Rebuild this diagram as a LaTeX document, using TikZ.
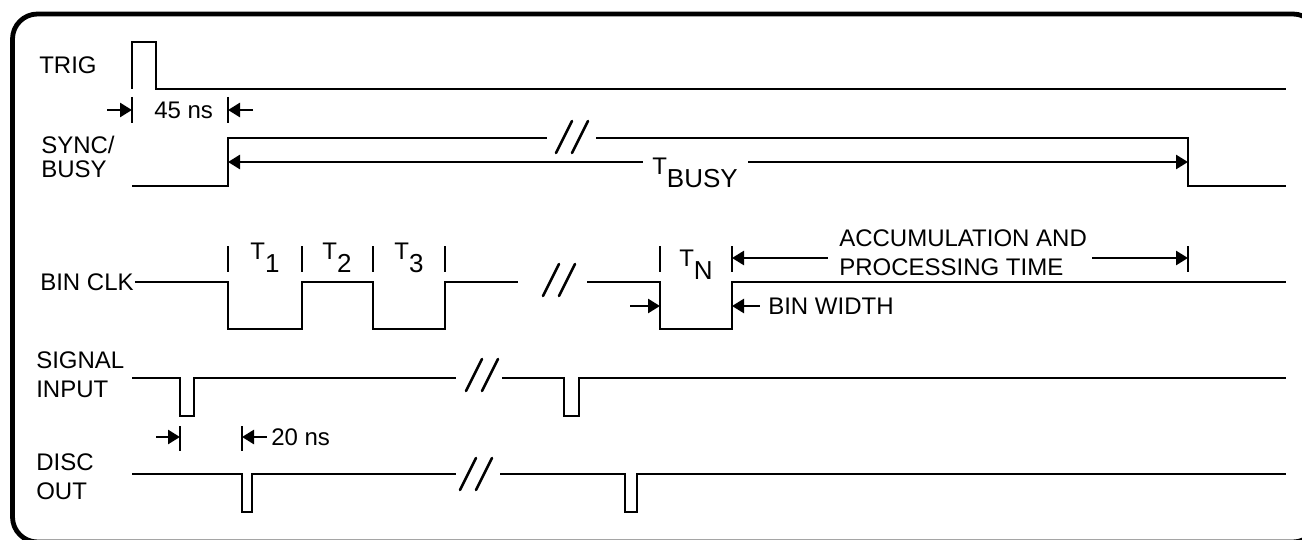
\documentclass[tikz,border=0pt]{standalone}
\usepackage{fontspec}
\setmainfont{Liberation Sans}
\usepackage{tikz}
\usetikzlibrary{arrows.meta}
\tikzset{>={Triangle[width=7pt,length=6pt]}}

\begin{document}
\begin{tikzpicture}[x=0.5pt,y=-0.5pt,line width=1.3pt]

  \fontsize{12}{14.5}\selectfont

  \newcommand\gapmark[2]{\draw[line cap=round] ({#1-16},{#2+16}) -- (#1,{#2-16}) (#1,{#2+16}) -- ({#1+16},{#2-16});}
  \newcommand\tsub[1]{{\fontsize{12}{12}\selectfont T}\raisebox{-6.5pt}{\fontsize{13}{13}\selectfont #1}}

  \useasboundingbox (0,0) rectangle (1302,540);
  \clip (0,0) rectangle (1302,540);
  \draw[line width=2.4pt, rounded corners=12.5pt] (12.5,14) rectangle (1318,542); % frame

  %% labels
  \node[anchor=west, inner sep=0] (trig) at (38,65) {TRIG};
  \node[anchor=west, inner sep=0, align=left] (sync) at (40,157) {SYNC/\\[-2.5pt]BUSY};
  \node[anchor=west, inner sep=0] (binclk) at (39,282) {BIN CLK};
  \node[anchor=west, inner sep=0, align=left] (sigin) at (35,375) {SIGNAL\\INPUT};
  \node[anchor=west, inner sep=0, align=left] (disc) at (35,477) {DISC\\OUT};

  %% TRIG
  \draw (132,89) -- (132,42) -- (156,42) -- (156,89) -- (1286,89);
  \draw (132,97) -- (132,123); % left tick
  \draw (228,97) -- (228,123); % right tick
  \draw[->] (107,110) -- (132,110);
  \draw[->] (253,110) -- (228,110);
  \node[anchor=west, inner sep=0] (t45) at (153,110) {45 ns};

  %% SYNC/BUSY
  \draw (132,186) -- (228,186) -- (228,138) -- (547,138);
  \draw (596,138) -- (1188,138) -- (1188,186) -- (1286,186);
  \gapmark{572}{137}
  \node (tbusy) at (695,173) {\tsub{BUSY}};
  \draw[<-] (228,162) -- (643,162);
  \draw[->] (748,162) -- (1188,162);

  %% BIN CLK
  \draw (binclk.east) -- (228,282) -- (228,329) -- (302,329) -- (302,282) -- (373,282)
    -- (373,329) -- (445,329) -- (445,282) -- (518,282);
  \draw (587,282) -- (660,282) -- (660,329) -- (732,329) -- (732,282) -- (1286,282);
  \gapmark{559}{280}
  \foreach \x in {228,302,373,445,660,732,1188}
    \draw (\x,246) -- (\x,272);
  \node (t1) at (265,258) {\tsub{1}};
  \node (t2) at (337,258) {\tsub{2}};
  \node (t3) at (409,258) {\tsub{3}};
  \node (tn) at (696,265) {\tsub{N}};
  \node[anchor=west, inner sep=0, align=left] (accu) at (838,253) {ACCUMULATION AND\\PROCESSING TIME};
  \draw[<-] (732,258) -- (828,258);
  \draw[->] (1092,258) -- (1188,258);
  \node[anchor=west, inner sep=0] (bw) at (767,306) {BIN WIDTH};
  \draw[->] (630,306) -- (660,306);
  \draw[<-] (732,306) -- (760,306);

  %% SIGNAL INPUT
  \draw (132,378) -- (180,378) -- (180,416) -- (194,416) -- (194,378) -- (456,378);
  \draw (502,378) -- (564,378) -- (564,416) -- (579,416) -- (579,378) -- (1286,378);
  \gapmark{482}{375}

  %% 20 ns
  \draw (180,426) -- (180,451);
  \draw (242,426) -- (242,451);
  \draw[->] (156,437) -- (180,437);
  \draw[<-] (242,437) -- (267,437);
  \node[anchor=west, inner sep=0] (t20) at (270,437) {20 ns};

  %% DISC OUT
  \draw (132,474) -- (242,474) -- (242,512) -- (252,512) -- (252,474) -- (456,474);
  \draw (500,474) -- (625,474) -- (625,512) -- (637,512) -- (637,474) -- (1286,474);
  \gapmark{476}{474}

\end{tikzpicture}
\end{document}
